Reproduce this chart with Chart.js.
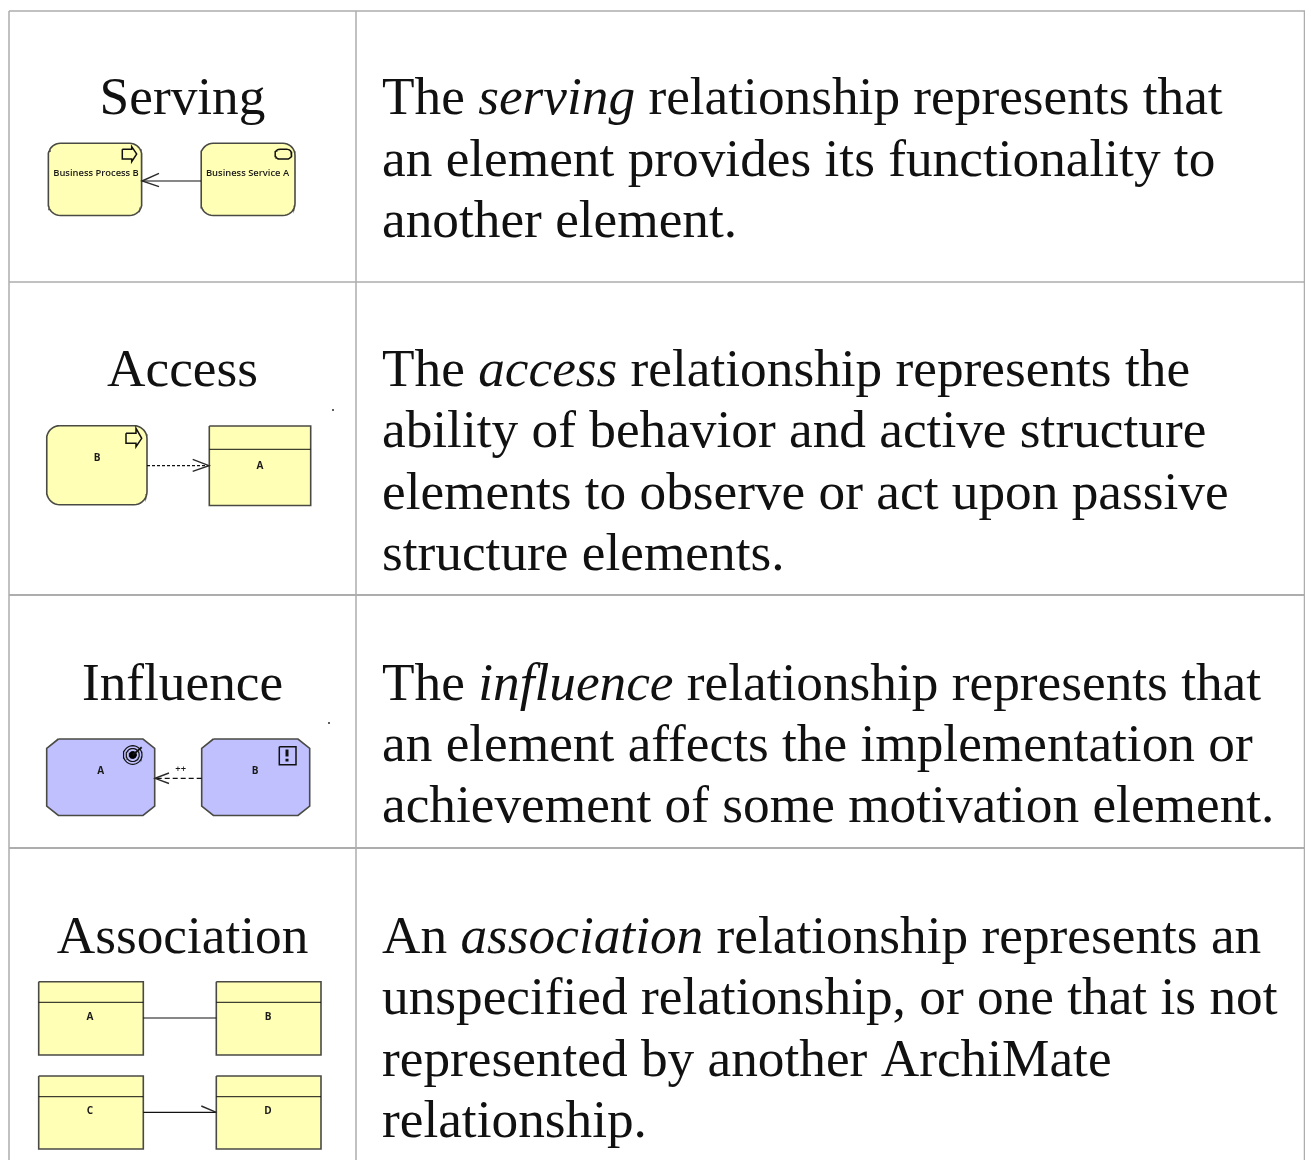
<!DOCTYPE html>
<html>
<head>
<meta charset="utf-8">
<title>Relationships</title>
<script src="https://cdn.jsdelivr.net/npm/chart.js@4"></script>
<style>
    html, body { margin: 0; padding: 0; background: #fff; }
    canvas { display: block; }
</style>
</head>
<body>
<canvas id="tabla" width="1305" height="1160"></canvas>
<script>
// textos de la tabla
const relationship_names = ['Serving', 'Access', 'Influence', 'Association'];
const name_baselines = [114, 386, 700, 953];

// en cada linea los indices impares van en cursiva
const description_lines = [
    ['The ', 'serving', ' relationship represents that'],
    ['an element provides its functionality to'],
    ['another element.'],
    ['The ', 'access', ' relationship represents the'],
    ['ability of behavior and active structure'],
    ['elements to observe or act upon passive'],
    ['structure elements.'],
    ['The ', 'influence', ' relationship represents that'],
    ['an element affects the implementation or'],
    ['achievement of some motivation element.'],
    ['An ', 'association', ' relationship represents an'],
    ['unspecified relationship, or one that is not'],
    ['represented by another ArchiMate'],
    ['relationship.']
];
const description_baselines = [114, 176, 237, 386, 447, 509, 570, 700, 761, 822, 953, 1014, 1076, 1137];

// etiquetas pequeñas: texto, x, y
const small_labels = [
    ['Business Process B', 96, 173],
    ['Business Service A', 247.5, 173],
    ['B', 97, 458.5],
    ['A', 260, 466],
    ['A', 100.7, 771],
    ['B', 255, 771],
    ['++', 180.7, 769],
    ['A', 90, 1017.5],
    ['B', 268, 1017.5],
    ['C', 90, 1111.5],
    ['D', 268, 1111.5]
];

// lineas de la cuadricula: x1, y1, x2, y2, grosor
const grid_lines = [
    [9, 11, 1305, 11, 1.5],
    [9, 282, 1305, 282, 1.5],
    [9, 595, 1305, 595, 2],
    [9, 848, 1305, 848, 2],
    [9, 11, 9, 1160, 1.5],
    [356, 11, 356, 1160, 1.5],
    [1304.5, 11, 1304.5, 1160, 1.5]
];

// cajas: izquierda, arriba, derecha, abajo, radio
const rounded_boxes = [
    [48.3, 143.3, 141.7, 215.5, 12],
    [201, 143.3, 295, 215.5, 12],
    [46.7, 425.7, 147, 504.7, 13]
];
// cajas con cabecera: izquierda, arriba, derecha, abajo, linea de cabecera
const header_boxes = [
    [209.3, 426, 310.7, 505.5, 449.3],
    [38.7, 981.7, 143.3, 1055, 1002.3],
    [216.3, 981.7, 321, 1055, 1002.3],
    [38.7, 1076, 143.3, 1149, 1096.7],
    [216.3, 1076, 321, 1149, 1096.7]
];
// octogonos: izquierda, arriba, derecha, abajo
const octagon_boxes = [
    [46.7, 739, 154.7, 815.5],
    [201.7, 739, 309.7, 815.5]
];

// conexiones: x1, y1, x2, y2, discontinua
const connectors = [
    [201, 181, 142, 181, false],
    [147, 465.7, 209, 465.7, true],
    [201.7, 778.3, 155, 778.3, true],
    [143.3, 1018, 216.3, 1018, false],
    [143.3, 1112.3, 216.3, 1112.3, false]
];
// puntas abiertas y marcas: listas de puntos [x, y]
const arrow_heads = [
    [[159, 173.3], [142, 181], [159, 186.7]],
    [[192.7, 459.3], [209, 465.7], [192.7, 471.3]],
    [[169, 773], [155, 778.3], [169, 783.5]],
    [[201.3, 1106], [216.3, 1112.3]],
    [[332, 410], [334, 410]],
    [[328, 723], [330, 723]]
];
// iconos
const process_icons = [
    [[122.3, 149.3], [131.7, 149.3], [131.7, 146.7], [136.7, 154], [131.7, 161.7], [131.7, 159], [122.3, 159], [122.3, 149.3]],
    [[126, 433.3], [136, 433.3], [136, 428.3], [141.7, 438.3], [136, 446.7], [136, 443.3], [126, 443.3], [126, 433.3]]
];
const service_icon = [275, 149.3, 291.7, 159, 4.8];
const goal_rings = [[132.7, 755, 9.3], [132.7, 755, 6.5]];
const goal_center = [132.7, 755, 3.5];
const goal_arrow = [[132.7, 755], [141.7, 747.3]];
const driver_square = [[279.3, 746.7], [296, 746.7], [296, 764.7], [279.3, 764.7], [279.3, 746.7]];
const driver_mark = [[[287, 749.5], [287, 756.5]], [[287, 758.8], [287, 761.5]]];

const COLOR_GRID = '#adadad';
const COLOR_BOX = '#4a4a44';
const COLOR_DARK = '#111111';
const COLOR_YELLOW = '#ffffb5';
const COLOR_PURPLE = '#c0c0ff';

function puntos(lista) {
    return lista.map(p => ({ x: p[0], y: p[1] }));
}

// caja redondeada como lista de puntos
function caja_redondeada(x0, y0, x1, y1, r) {
    const esquinas = [[x1 - r, y0 + r, -90], [x1 - r, y1 - r, 0], [x0 + r, y1 - r, 90], [x0 + r, y0 + r, 180]];
    const salida = [[x0 + r, y0]];
    esquinas.forEach(e => {
        for (let a = 0; a <= 90; a += 10) {
            const rad = (e[2] + a) * Math.PI / 180;
            salida.push([e[0] + r * Math.cos(rad), e[1] + r * Math.sin(rad)]);
        }
    });
    salida.push([x0 + r, y0]);
    return salida;
}

function octogono(x0, y0, x1, y1) {
    const cx = 11.7, cy = 9.3;
    return [[x0 + cx, y0], [x1 - cx, y0], [x1, y0 + cy], [x1, y1 - cy], [x1 - cx, y1], [x0 + cx, y1], [x0, y1 - cy], [x0, y0 + cy], [x0 + cx, y0]];
}

function circulo(cx, cy, r) {
    return caja_redondeada(cx - r, cy - r, cx + r, cy + r, r);
}

const datasets = [];

function agregar(lista, color, grosor, relleno, guiones) {
    datasets.push({
        data: puntos(lista),
        borderColor: color,
        borderWidth: grosor,
        backgroundColor: relleno || 'transparent',
        fill: relleno ? 'shape' : false,
        borderDash: guiones || [],
        pointRadius: 0,
        showLine: true,
        tension: 0,
        order: -datasets.length
    });
}

grid_lines.forEach(l => agregar([[l[0], l[1]], [l[2], l[3]]], COLOR_GRID, l[4]));

rounded_boxes.forEach(b => agregar(caja_redondeada(b[0], b[1], b[2], b[3], b[4]), COLOR_BOX, 1.6, COLOR_YELLOW));

header_boxes.forEach(b => {
    agregar([[b[0], b[1]], [b[2], b[1]], [b[2], b[3]], [b[0], b[3]], [b[0], b[1]]], COLOR_BOX, 1.6, COLOR_YELLOW);
    agregar([[b[0], b[4]], [b[2], b[4]]], COLOR_DARK, 1);
});

octagon_boxes.forEach(b => agregar(octogono(b[0], b[1], b[2], b[3]), COLOR_BOX, 1.6, COLOR_PURPLE));

connectors.forEach(c => agregar([[c[0], c[1]], [c[2], c[3]]], COLOR_DARK, 1.2, null, c[4] ? (c[1] > 700 ? [5, 3] : [3, 2]) : null));
arrow_heads.forEach(a => agregar(a, '#2a2a2a', 1.4));

process_icons.forEach(i => agregar(i, COLOR_DARK, 1.5));
agregar(caja_redondeada(service_icon[0], service_icon[1], service_icon[2], service_icon[3], service_icon[4]), COLOR_DARK, 1.5);
goal_rings.forEach(g => agregar(circulo(g[0], g[1], g[2]), COLOR_DARK, 1.2));
agregar(circulo(goal_center[0], goal_center[1], goal_center[2]), '#000000', 1, '#000000');
agregar(goal_arrow, COLOR_DARK, 1.8);
agregar(driver_square, COLOR_DARK, 1.5);
driver_mark.forEach(m => agregar(m, COLOR_DARK, 3));

// escribe los textos de la tabla usando las escalas del grafico
const textos_tabla = {
    id: 'textos_tabla',
    afterDatasetsDraw(chart) {
        const ctx = chart.ctx;
        const sx = chart.scales.x;
        const sy = chart.scales.y;
        const SERIF = '"Liberation Serif", serif';
        ctx.save();
        ctx.fillStyle = '#111111';
        ctx.textBaseline = 'alphabetic';

        ctx.font = '53.3px ' + SERIF;
        ctx.textAlign = 'center';
        relationship_names.forEach((t, i) => {
            ctx.fillText(t, sx.getPixelForValue(182.5), sy.getPixelForValue(name_baselines[i]));
        });

        ctx.textAlign = 'left';
        description_lines.forEach((partes, i) => {
            let x = sx.getPixelForValue(382);
            partes.forEach((t, j) => {
                ctx.font = (j % 2 ? 'italic ' : '') + '53.3px ' + SERIF;
                ctx.fillText(t, x, sy.getPixelForValue(description_baselines[i]));
                x += ctx.measureText(t).width;
            });
        });

        ctx.fillStyle = '#1a1a1a';
        ctx.textAlign = 'center';
        ctx.textBaseline = 'middle';
        small_labels.forEach(l => {
            // las letras sueltas se ven mas gruesas en el original
            ctx.font = l[0].length === 1 ? '700 10px "Open Sans", sans-serif' : '600 9.4px "Open Sans", sans-serif';
            ctx.fillText(l[0], sx.getPixelForValue(l[1]), sy.getPixelForValue(l[2]));
        });
        ctx.restore();
    }
};

new Chart(document.getElementById('tabla').getContext('2d'), {
    type: 'line',
    data: { datasets: datasets },
    options: {
        responsive: false,
        animation: false,
        layout: { padding: 0 },
        plugins: {
            legend: { display: false },
            tooltip: { enabled: false },
            title: { display: false }
        },
        scales: {
            x: { type: 'linear', min: 0, max: 1305, display: false },
            y: { type: 'linear', min: 0, max: 1160, reverse: true, display: false }
        }
    },
    plugins: [textos_tabla]
});
</script>
</body>
</html>
